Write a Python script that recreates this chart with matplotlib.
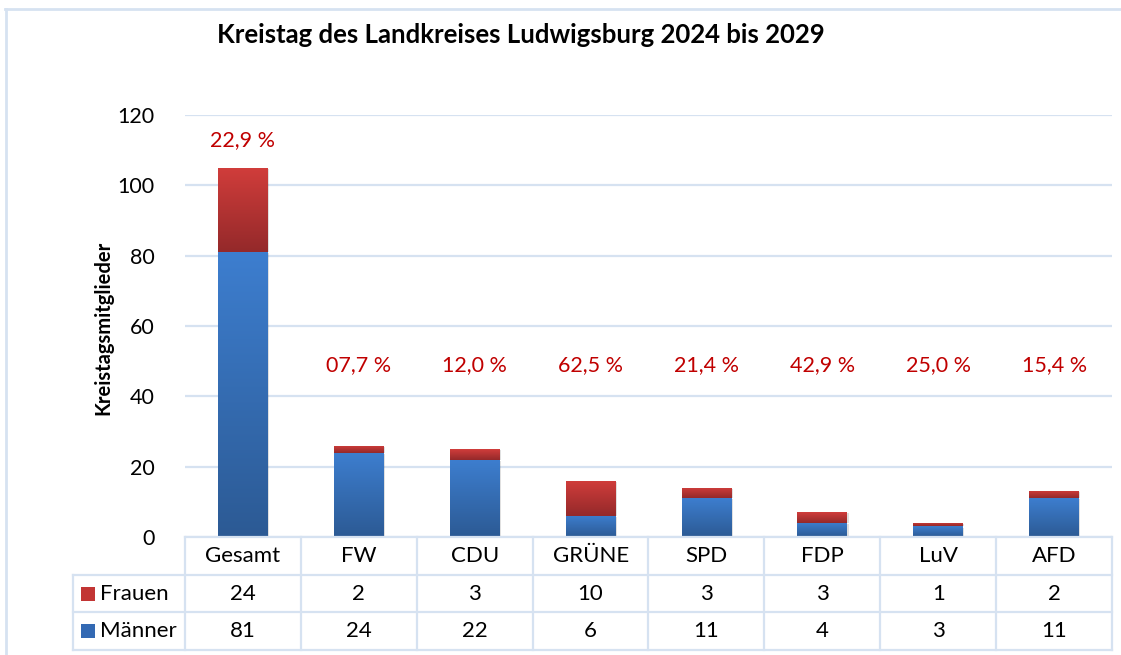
import numpy as np
import matplotlib.pyplot as plt
from matplotlib.colors import LinearSegmentedColormap
from matplotlib.patches import Rectangle

plt.rcParams['font.family'] = ['Lato', 'DejaVu Sans']

# data
parteien = ['Gesamt', 'FW', 'CDU', 'GRÜNE', 'SPD', 'FDP', 'LuV', 'AFD']
frauen = [24, 2, 3, 10, 3, 3, 1, 2]
maenner = [81, 24, 22, 6, 11, 4, 3, 11]
anteil = ['22,9 %', '07,7 %', '12,0 %', '62,5 %', '21,4 %', '42,9 %', '25,0 %', '15,4 %']
label_y = [113, 49, 49, 49, 49, 49, 49, 49]

W, H = 1121, 655
fig = plt.figure(figsize=(W / 100, H / 100), dpi=100)
ax = fig.add_axes([185 / W, 1 - 537 / H, (1112 - 185) / W, (537 - 115) / H])

grid_col = '#d6e2f1'
blue_cm = LinearSegmentedColormap.from_list('b', ['#2c5a94', '#3d7ecf'])
red_cm = LinearSegmentedColormap.from_list('r', ['#94292a', '#d13d3b'])

x = np.arange(len(parteien))
ax.set_yticks(range(0, 121, 20))
ax.yaxis.grid(True, color=grid_col, linewidth=1.6)
ax.set_axisbelow(True)
ax.set_xticks([])
for s in ax.spines.values():
    s.set_visible(False)
ax.tick_params(axis='y', length=0, pad=22, labelsize=15.5)

grad = np.linspace(0, 1, 256).reshape(-1, 1)

def gradient_bars(bars, cmap):
    for b in bars:
        x0, y0 = b.get_x(), b.get_y()
        w, h = b.get_width(), b.get_height()
        # light shadow
        sh = Rectangle((x0 + 0.012, y0), w, h - 0.3, facecolor='#000000',
                       alpha=0.12, edgecolor='none', zorder=2)
        ax.add_patch(sh)
        b.set_facecolor('none')
        im = ax.imshow(grad, extent=[x0, x0 + w, y0, y0 + h], origin='lower',
                       cmap=cmap, aspect='auto', zorder=3)
        im.set_clip_path(b)

bm = ax.bar(x, maenner, width=0.43, edgecolor='none', zorder=3)
bf = ax.bar(x, frauen, bottom=maenner, width=0.43, edgecolor='none', zorder=3)
gradient_bars(bm, blue_cm)
gradient_bars(bf, red_cm)
ax.set_xlim(-0.5, len(parteien) - 0.5)
ax.set_ylim(0, 120)

for i, t in enumerate(anteil):
    ax.text(x[i], label_y[i], t, ha='center', va='center', color='#c00000',
            fontsize=15.5, clip_on=False)

ax.set_ylabel('Kreistagsmitglieder', fontsize=14.5, fontweight='bold')
ax.yaxis.set_label_coords((113 - 185) / (1112 - 185), (537 - 328) / (537 - 115))

fig.text(0.465, 1 - 35 / H, 'Kreistag des Landkreises Ludwigsburg 2024 bis 2029',
         ha='center', va='center', fontsize=18.5, fontweight='bold')

# data table (figure pixel coords)
def fx(px):
    return px / W

def fy(py):
    return 1 - py / H

col_w = (1112 - 185) / len(parteien)
rows_y = [537, 575, 612, 650]
lw = 1.6
# horizontal lines
fig.add_artist(plt.Line2D([fx(185), fx(1112)], [fy(537), fy(537)], color=grid_col, lw=lw))
for py in rows_y[1:]:
    fig.add_artist(plt.Line2D([fx(73), fx(1112)], [fy(py), fy(py)], color=grid_col, lw=lw))
# vertical lines
fig.add_artist(plt.Line2D([fx(73), fx(73)], [fy(575), fy(650)], color=grid_col, lw=lw))
for i in range(len(parteien) + 1):
    px = 185 + i * col_w
    fig.add_artist(plt.Line2D([fx(px), fx(px)], [fy(537), fy(650)], color=grid_col, lw=lw))

fs = 16
for i, p in enumerate(parteien):
    cx = fx(185 + (i + 0.5) * col_w)
    fig.text(cx, fy(556), p, ha='center', va='center', fontsize=fs)
    fig.text(cx, fy(593.5), str(frauen[i]), ha='center', va='center', fontsize=fs)
    fig.text(cx, fy(631), str(maenner[i]), ha='center', va='center', fontsize=fs)

for py, name, col in [(593.5, 'Frauen', '#c23534'), (631, 'Männer', '#3369b3')]:
    fig.add_artist(Rectangle((fx(81), fy(py + 7)), 14 / W, 14 / H, facecolor=col,
                             edgecolor='none', transform=fig.transFigure))
    fig.text(fx(100), fy(py), name, ha='left', va='center', fontsize=fs)

# outer frame of chart area
fig.add_artist(plt.Line2D([fx(5), fx(1121)], [fy(9), fy(9)], color=grid_col, lw=2))
fig.add_artist(plt.Line2D([fx(6), fx(6)], [fy(9), fy(655)], color=grid_col, lw=2))

fig.savefig('out.png', dpi=100)
